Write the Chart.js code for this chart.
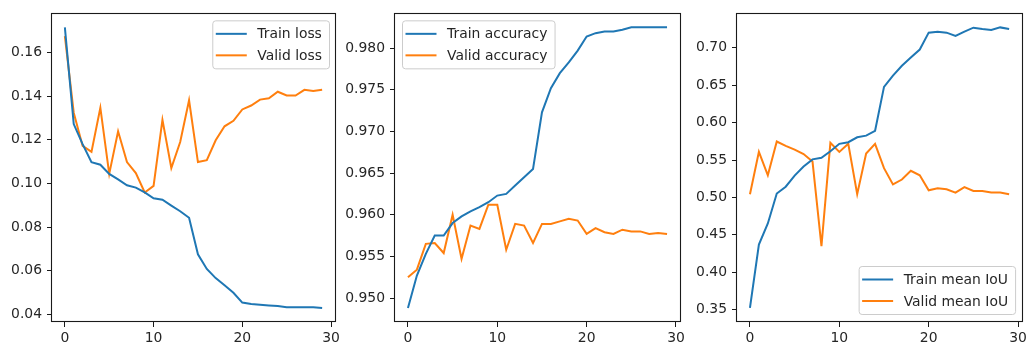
<!DOCTYPE html>
<html>
<head>
<meta charset="utf-8">
<script src="https://cdn.jsdelivr.net/npm/chart.js@4"></script>
<style>
  body { margin: 0; background: #fff; }
  #wrap { position: relative; width: 1030px; height: 349px; }
  .panel { position: absolute; top: 0; height: 349px; width: 345px; }
</style>
</head>
<body>
<div id="wrap">
  <div class="panel" style="left:0px"><canvas id="lossChart"></canvas></div>
  <div class="panel" style="left:345px"><canvas id="accChart"></canvas></div>
  <div class="panel" style="left:685px"><canvas id="iouChart"></canvas></div>
</div>
<script>
// 学習曲線 (loss / accuracy / mean IoU)

const epochs = [0, 1, 2, 3, 4, 5, 6, 7, 8, 9, 10, 11, 12, 13, 14, 15, 16, 17, 18, 19, 20, 21, 22, 23, 24, 25, 26, 27, 28, 29];
const xTicks = [0, 10, 20, 30];

const trainLoss = [0.1715, 0.1272, 0.1180, 0.1098, 0.1086, 0.1044, 0.1019, 0.0992, 0.0981, 0.0959,
  0.0932, 0.0926, 0.0899, 0.0873, 0.0843, 0.0676, 0.0609, 0.0567, 0.0534, 0.0500,
  0.0455, 0.0448, 0.0445, 0.0442, 0.0439, 0.0434, 0.0434, 0.0433, 0.0433, 0.0430];
const validLoss = [0.1675, 0.1324, 0.1172, 0.1145, 0.1347, 0.1044, 0.1239, 0.1098, 0.1048, 0.0959,
  0.0989, 0.1291, 0.1071, 0.1190, 0.1381, 0.1098, 0.1107, 0.1198, 0.1262, 0.1287,
  0.1339, 0.1357, 0.1384, 0.1390, 0.1420, 0.1403, 0.1403, 0.1429, 0.1423, 0.1429];
const lossTicks = [0.04, 0.06, 0.08, 0.10, 0.12, 0.14, 0.16];

const trainAcc = [0.9488, 0.9527, 0.9553, 0.9575, 0.9575, 0.9590, 0.9598, 0.9604, 0.9609, 0.9615,
  0.9623, 0.9625, 0.9635, 0.9645, 0.9655, 0.9723, 0.9752, 0.9770, 0.9783, 0.9797,
  0.9814, 0.9818, 0.9820, 0.9820, 0.9822, 0.9825, 0.9825, 0.9825, 0.9825, 0.9825];
const validAcc = [0.9525, 0.9534, 0.9565, 0.9566, 0.9554, 0.9600, 0.9547, 0.9587, 0.9583, 0.9612,
  0.9612, 0.9558, 0.9589, 0.9587, 0.9566, 0.9589, 0.9589, 0.9592, 0.9595, 0.9593,
  0.9577, 0.9584, 0.9579, 0.9577, 0.9582, 0.9580, 0.9580, 0.9577, 0.9578, 0.9577];
const accTicks = [0.950, 0.955, 0.960, 0.965, 0.970, 0.975, 0.980];

const trainIoU = [0.3522, 0.4370, 0.4652, 0.5052, 0.5143, 0.5291, 0.5413, 0.5509, 0.5530, 0.5617,
  0.5717, 0.5739, 0.5804, 0.5826, 0.5891, 0.6478, 0.6630, 0.6760, 0.6870, 0.6978,
  0.7204, 0.7217, 0.7204, 0.7161, 0.7217, 0.7270, 0.7252, 0.7239, 0.7274, 0.7252];
const validIoU = [0.5043, 0.5609, 0.5296, 0.5748, 0.5690, 0.5640, 0.5580, 0.5480, 0.4348, 0.5730,
  0.5609, 0.5717, 0.5043, 0.5587, 0.5717, 0.5391, 0.5174, 0.5239, 0.5357, 0.5296,
  0.5096, 0.5122, 0.5109, 0.5065, 0.5139, 0.5087, 0.5087, 0.5065, 0.5065, 0.5043];
const iouTicks = [0.35, 0.40, 0.45, 0.50, 0.55, 0.60, 0.65, 0.70];

// matplotlib風の色
const colors = {
  blue: '#1f77b4',
  orange: '#ff7f0e',
  text: '#262626',
  spine: '#1a1a1a'
};
const FONT_SIZE = 13.9;
const FONT_FAMILY = '"DejaVu Sans", sans-serif';

Chart.defaults.font.family = FONT_FAMILY;
Chart.defaults.font.size = FONT_SIZE;
Chart.defaults.color = colors.text;

// 枠線 (4辺) と凡例を描くプラグイン
const frameAndLegend = {
  id: 'frameAndLegend',
  afterDraw(chart, args, opts) {
    const ctx = chart.ctx;
    const a = chart.chartArea;
    ctx.save();
    ctx.strokeStyle = colors.spine;
    ctx.lineWidth = 1.1;
    ctx.strokeRect(Math.round(a.left) - 0.5, Math.round(a.top) + 0.5,
      Math.round(a.right - a.left) + 1, Math.round(a.bottom - a.top) - 1);

    // 凡例
    ctx.font = FONT_SIZE + 'px ' + FONT_FAMILY;
    const sets = chart.data.datasets;
    const textW = Math.max(...sets.map(d => ctx.measureText(d.label).width));
    const w = 3.5 + 31 + 10.5 + textW + 7;
    const h = 48;
    let x, y;
    if (opts.corner === 'ul') { x = a.left + 7; y = a.top + 7; }
    else if (opts.corner === 'lr') { x = a.right - 7 - w; y = a.bottom - 8 - h; }
    else { x = a.right - 6 - w; y = a.top + 7; }
    ctx.beginPath();
    ctx.roundRect(x + 0.5, y + 0.5, w, h, 3);
    ctx.fillStyle = 'rgba(255,255,255,0.8)';
    ctx.fill();
    ctx.strokeStyle = '#cccccc';
    ctx.lineWidth = 1;
    ctx.stroke();
    sets.forEach((d, i) => {
      const cy = y + 13.5 + i * 21.5;
      ctx.beginPath();
      ctx.moveTo(x + 3.5, cy);
      ctx.lineTo(x + 34.5, cy);
      ctx.strokeStyle = d.borderColor;
      ctx.lineWidth = 2;
      ctx.stroke();
      ctx.fillStyle = colors.text;
      ctx.textBaseline = 'middle';
      ctx.textAlign = 'left';
      ctx.fillText(d.label, x + 45, cy + 1);
    });
    ctx.restore();
  }
};

function toPoints(values) {
  return epochs.map((e, i) => ({ x: e, y: values[i] }));
}

function createPanel(id, cfg) {
  const ctx = document.getElementById(id).getContext('2d');
  return new Chart(ctx, {
    type: 'line',
    data: {
      datasets: [
        {
          label: cfg.labels[0],
          data: toPoints(cfg.train),
          borderColor: colors.blue,
          borderWidth: 2,
          pointRadius: 0,
          tension: 0,
          fill: false
        },
        {
          label: cfg.labels[1],
          data: toPoints(cfg.valid),
          borderColor: colors.orange,
          borderWidth: 2,
          pointRadius: 0,
          tension: 0,
          fill: false
        }
      ]
    },
    options: {
      responsive: false,
      animation: false,
      devicePixelRatio: 1,
      layout: { padding: { top: 5, right: cfg.padRight, left: 0, bottom: 0 } },
      plugins: {
        legend: { display: false },
        tooltip: { enabled: false },
        frameAndLegend: { corner: cfg.corner }
      },
      scales: {
        x: {
          type: 'linear',
          min: -1.45,
          max: 30.45,
          afterBuildTicks: s => { s.ticks = xTicks.map(v => ({ value: v })); },
          afterFit: s => { s.height = 27; },
          ticks: { padding: 3, callback: v => String(v), maxRotation: 0 },
          grid: { drawOnChartArea: false, drawTicks: true, tickLength: 5, tickColor: colors.spine, tickWidth: 1 },
          border: { display: false }
        },
        y: {
          type: 'linear',
          min: cfg.yMin,
          max: cfg.yMax,
          afterBuildTicks: s => { s.ticks = cfg.ticks.map(v => ({ value: v })); },
          afterFit: s => { s.width = cfg.yWidth; },
          ticks: { padding: 5, callback: v => v.toFixed(cfg.decimals) },
          grid: { drawOnChartArea: false, drawTicks: true, tickLength: 5, tickColor: colors.spine, tickWidth: 1 },
          border: { display: false }
        }
      }
    },
    plugins: [frameAndLegend]
  });
}

function setupCanvas(id) {
  const c = document.getElementById(id);
  c.width = 345;
  c.height = 349;
  c.style.width = '345px';
  c.style.height = '349px';
}

['lossChart', 'accChart', 'iouChart'].forEach(setupCanvas);

createPanel('lossChart', {
  labels: ['Train loss', 'Valid loss'],
  train: trainLoss, valid: validLoss, ticks: lossTicks,
  yMin: 0.0366, yMax: 0.1779, decimals: 2,
  yWidth: 52, padRight: 10, corner: 'ur'
});
createPanel('accChart', {
  labels: ['Train accuracy', 'Valid accuracy'],
  train: trainAcc, valid: validAcc, ticks: accTicks,
  yMin: 0.94712, yMax: 0.98418, decimals: 3,
  yWidth: 50, padRight: 10, corner: 'ul'
});
createPanel('iouChart', {
  labels: ['Train mean IoU', 'Valid mean IoU'],
  train: trainIoU, valid: validIoU, ticks: iouTicks,
  yMin: 0.3334, yMax: 0.7462, decimals: 2,
  yWidth: 52, padRight: 7, corner: 'lr'
});
</script>
</body>
</html>
